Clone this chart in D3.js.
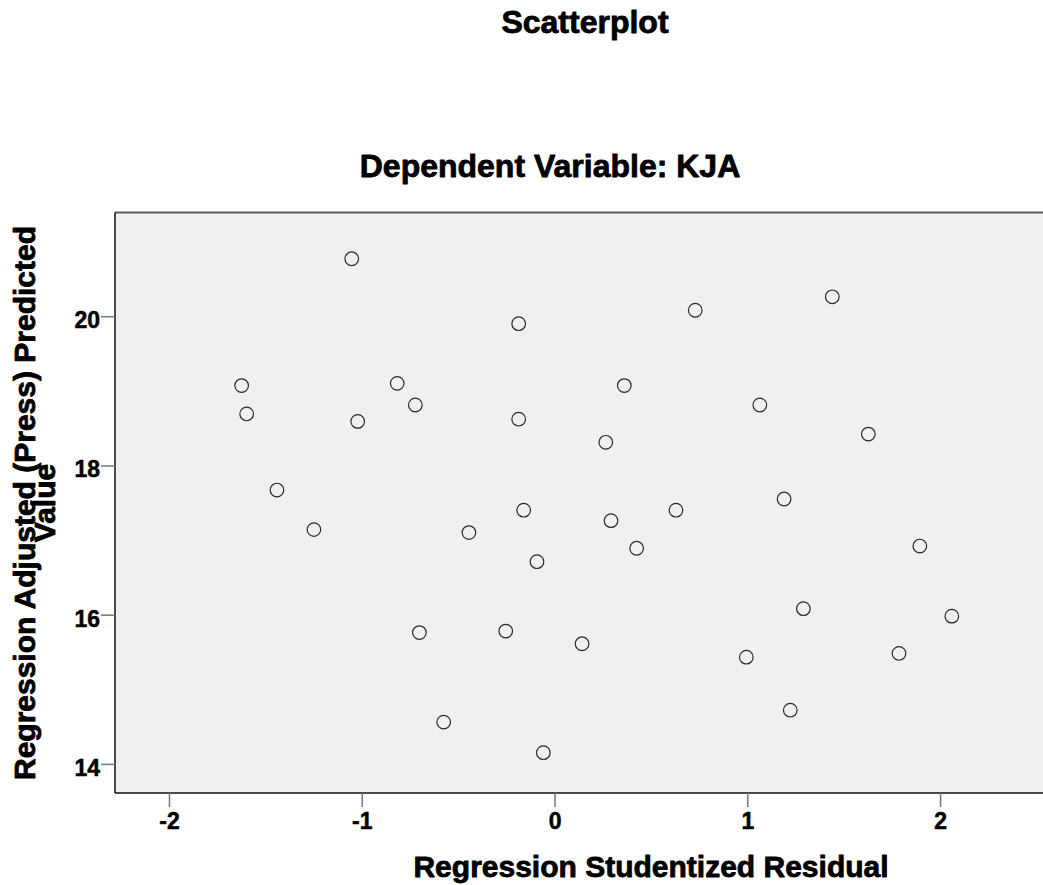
<!DOCTYPE html>
<html>
<head>
<meta charset="utf-8">
<script src="https://cdn.jsdelivr.net/npm/d3@7"></script>
<style>
  html, body { margin: 0; padding: 0; background: #fff; }
  svg { display: block; font-family: "Liberation Sans", Arial, sans-serif; }
  .heavy { stroke: #000; stroke-width: 0.8px; stroke-linejoin: round; }
</style>
</head>
<body>
<svg id="chart" width="1043" height="885"></svg>
<script>
// Data
const residual = [-1.052, -1.623, -1.597, -0.816, -0.722, -1.021, -1.440, -1.248,
  -0.186, 0.730, 0.362, -0.186, 0.266, -0.160, 0.293, 0.630,
  1.441, 1.065, 1.628, 1.191, -0.444, -0.701, -0.575, -0.091,
  0.426, -0.253, 0.143, -0.058, 0.995, 1.895, 1.291, 2.061, 1.787, 1.223];
const predicted = [20.77, 19.07, 18.69, 19.10, 18.81, 18.59, 17.67, 17.14,
  19.90, 20.08, 19.07, 18.62, 18.31, 17.40, 17.26, 17.40,
  20.26, 18.81, 18.42, 17.55, 17.10, 15.76, 14.56, 16.71,
  16.89, 15.78, 15.61, 14.15, 15.43, 16.92, 16.08, 15.98, 15.48, 14.72];
const xTicks = [-2, -1, 0, 1, 2];
const yTicks = [14, 16, 18, 20];
const titleText = "Scatterplot";
const subtitleText = "Dependent Variable: KJA";
const xLabel = "Regression Studentized Residual";
const yLabelLines = ["Regression Adjusted (Press) Predicted", "Value"];

(function () {
const svg = d3.select("#chart");
const pLeft = 115, pRight = 1043, pTop = 212.5, pBottom = 793;

const x = d3.scaleLinear().domain([-2.28, 2.534]).range([pLeft, pRight]);
const y = d3.scaleLinear().domain([13.61, 21.39]).range([pBottom, pTop]);

// Plot background
svg.append("rect")
  .attr("x", pLeft).attr("y", pTop)
  .attr("width", pRight - pLeft).attr("height", pBottom - pTop)
  .attr("fill", "#f0f0f0");

// Borders
svg.append("line").attr("x1", pLeft).attr("x2", pRight).attr("y1", pTop).attr("y2", pTop)
  .attr("stroke", "#5a5a5a").attr("stroke-width", 2);
svg.append("line").attr("x1", pLeft).attr("x2", pLeft).attr("y1", pTop).attr("y2", pBottom)
  .attr("stroke", "#111").attr("stroke-width", 1.5);
svg.append("line").attr("x1", pLeft).attr("x2", pRight).attr("y1", pBottom).attr("y2", pBottom)
  .attr("stroke", "#111").attr("stroke-width", 1.5);

// Axes
const xAxis = svg.append("g")
  .attr("transform", `translate(0,${pBottom})`)
  .call(d3.axisBottom(x).tickValues(xTicks).tickSize(14).tickPadding(6)
    .tickFormat(d3.format("d")));
const yAxis = svg.append("g")
  .attr("transform", `translate(${pLeft},0)`)
  .call(d3.axisLeft(y).tickValues(yTicks).tickSize(14).tickPadding(1)
    .tickFormat(d3.format("d")));

[xAxis, yAxis].forEach(g => {
  g.select(".domain").remove();
  g.selectAll(".tick line").attr("stroke", "#777").attr("stroke-width", 1.5);
  g.selectAll(".tick text")
    .attr("fill", "#000")
    .attr("class", "heavy")
    .style("stroke-width", "0.5px")
    .style("font-size", "23px")
    .style("font-weight", "bold")
    .style("font-family", "'Liberation Sans', Arial, sans-serif");
});
yAxis.selectAll(".tick text").attr("dy", "0.5em");
xAxis.selectAll(".tick text").text(d => d < 0 ? "-" + Math.abs(d) : String(d));

// Points
svg.append("g").selectAll("circle")
  .data(residual.map((r, i) => ({ r, p: predicted[i] })))
  .join("circle")
  .attr("cx", d => x(d.r))
  .attr("cy", d => y(d.p))
  .attr("r", 6.8)
  .attr("fill", "none")
  .attr("stroke", "#2a2a2a")
  .attr("stroke-width", 1.2);

// Titles
svg.append("text")
  .attr("class", "heavy")
  .attr("x", 585).attr("y", 33)
  .attr("text-anchor", "middle")
  .style("font-size", "32px").style("font-weight", "bold")
  .text(titleText);
svg.append("text")
  .attr("class", "heavy")
  .attr("x", 550).attr("y", 177)
  .attr("text-anchor", "middle")
  .style("font-size", "32px").style("font-weight", "bold")
  .text(subtitleText);

// Axis labels
svg.append("text")
  .attr("class", "heavy")
  .attr("x", 651).attr("y", 877)
  .attr("text-anchor", "middle")
  .style("font-size", "30px").style("font-weight", "bold")
  .text(xLabel);

const ylab = svg.append("text")
  .attr("class", "heavy")
  .attr("transform", "translate(0,503) rotate(-90)")
  .attr("text-anchor", "middle")
  .style("font-size", "30px").style("font-weight", "bold");
ylab.append("tspan").attr("x", 0).attr("y", 35).text(yLabelLines[0]);
ylab.append("tspan").attr("x", 0).attr("y", 55).text(yLabelLines[1]);
})();
</script>
</body>
</html>
